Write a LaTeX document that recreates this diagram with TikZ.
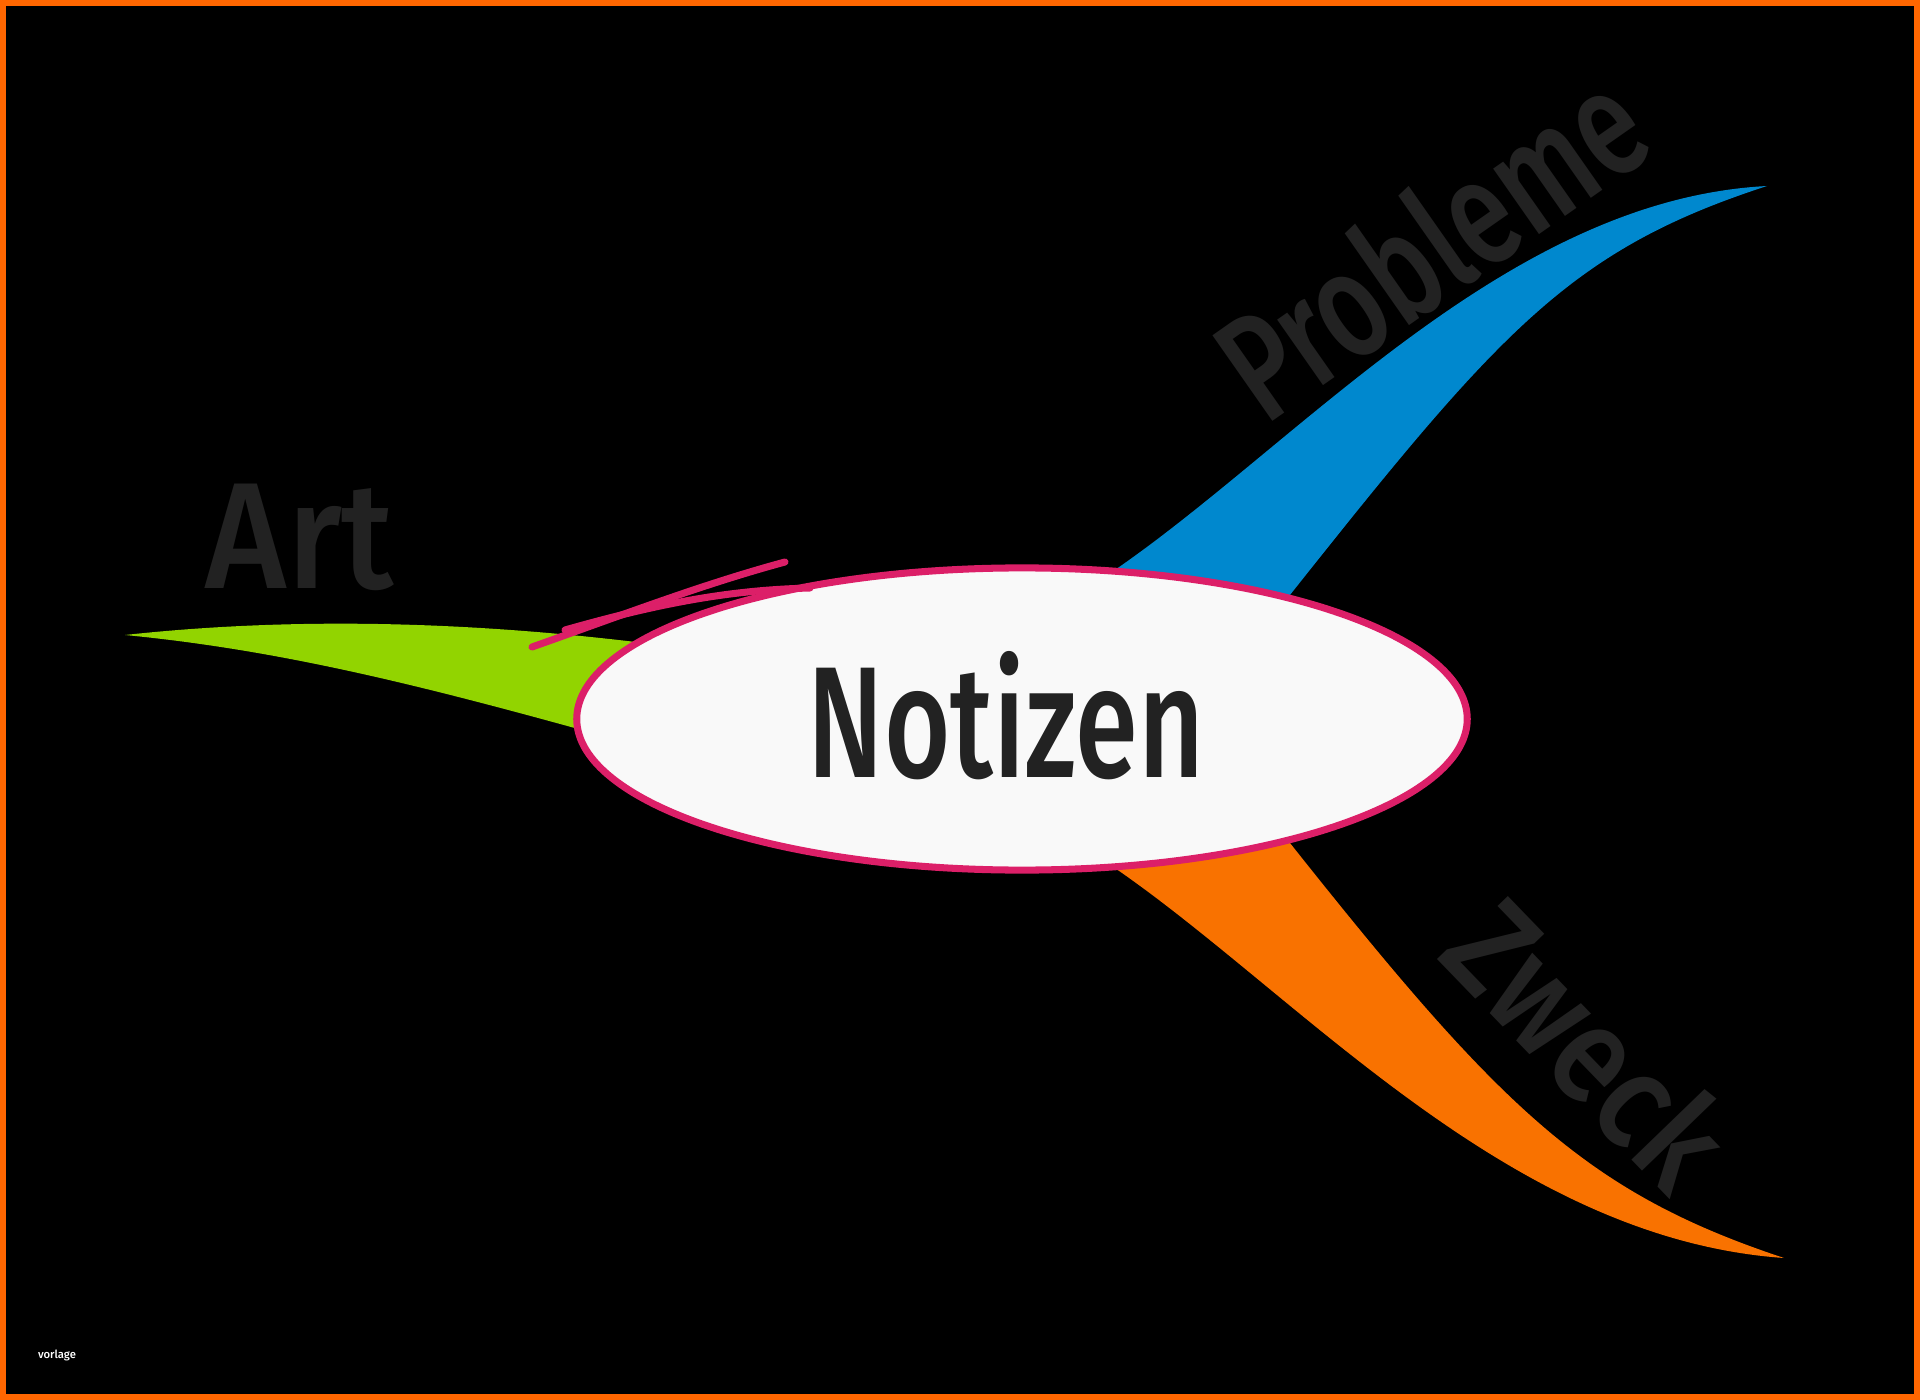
\documentclass[tikz,border=0pt]{standalone}
\usepackage{fontspec}
\setmainfont{Fira Sans}[UprightFont=* Medium]
\usepackage{graphicx}
\usetikzlibrary{shapes.geometric}
\definecolor{framebg}{HTML}{FF6600}
\definecolor{artgreen}{HTML}{92D400}
\definecolor{problue}{HTML}{0088CE}
\definecolor{zweckorange}{HTML}{F97200}
\definecolor{hubpink}{HTML}{DC1F68}
\definecolor{hubfill}{HTML}{F9F9F9}
\definecolor{inkgray}{HTML}{222222}
\tikzset{hub/.style={ellipse,draw=hubpink,line width=2pt,fill=hubfill,minimum width=8.9cm,
minimum height=3.02cm,inner sep=0pt},tag/.style={text=inkgray,inner sep=0pt}}
\tikzstyle{scribble} = [draw=hubpink, line width=2pt, line cap=round]

\begin{document}
\begin{tikzpicture}[x=0.01cm,y=-0.01cm]
		% background and frame
		\fill[framebg] (0,0) rectangle (1920,1400);
		\fill[black] (6,6) rectangle (1914,1394);

		\coordinate (arttip) at (125,635);
		\coordinate (probtip) at (1767,186);
		\coordinate (zwecktip) at (1784,1258);

		% branches
		\fill[artgreen] (arttip) .. controls (300,616) and (480,622) .. (660,645) -- (660,720) -- (600,735) .. controls (420,685) and (280,650) .. (arttip) -- cycle;
		\fill[problue] (1190,650) -- (1100,580) .. controls (1290,455) and (1500,200) .. (probtip) .. controls (1570,250) and (1500,330) .. (1286,600) -- cycle;
		\fill[zweckorange] (1190,790) -- (1100,858) .. controls (1290,983) and (1500,1238) .. (zwecktip) .. controls (1585,1192) and (1500,1108) .. (1286,838) -- cycle;

		\node (notizen) [hub] at (1022,719) {};
		\draw[scribble] (532,647) .. controls (620,616) and (700,585) .. (785,562);
		\draw[scribble] (565,630) .. controls (660,603) and (730,590) .. (810,588);

		\node (notizentext) [tag,anchor=base,font=\fontsize{45}{50}\selectfont] at (1006,777) {\scalebox{0.72}[1]{Notizen}};
		\node (art) [tag,anchor=base,font=\fontsize{43}{48}\selectfont] at (300,588) {\scalebox{0.92}[1]{Art}};
		\node (probleme) [tag,rotate=35,font=\fontsize{43}{48}\selectfont] at (1430,243) {\scalebox{0.73}[1]{Probleme}};
		\node (zweck) [tag,rotate=-46,font=\fontsize{39}{44}\selectfont] at (1589,1043) {\scalebox{0.87}[1]{Zweck}};
		\node (vorlage) [text=white,inner sep=0pt,font=\fontsize{3.2}{4}\selectfont] at (57,1355) {vorlage};
\end{tikzpicture}
\end{document}
